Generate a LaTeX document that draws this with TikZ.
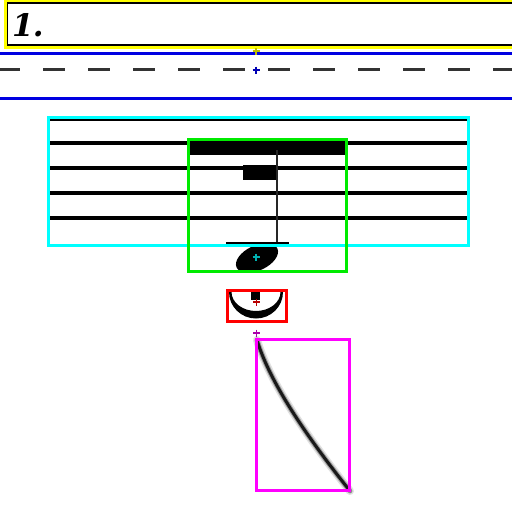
\documentclass[tikz,border=0pt]{standalone}
\usepackage{fontspec}
\newfontfamily\numfont{DejaVu Serif}
\usetikzlibrary{calc}
\definecolor{ybox}{RGB}{255,255,0}
\definecolor{ymark}{RGB}{190,190,0}
\definecolor{bline}{RGB}{0,0,225}
\definecolor{bmark}{RGB}{0,0,180}
\definecolor{cbox}{RGB}{0,255,255}
\definecolor{cmark}{RGB}{0,175,175}
\definecolor{gbox}{RGB}{0,235,0}
\definecolor{rbox}{RGB}{255,0,0}
\definecolor{rmark}{RGB}{185,0,0}
\definecolor{mbox}{RGB}{255,0,255}
\definecolor{mmark}{RGB}{170,0,170}
\tikzset{
  frame/.style={line width=3pt},
  staffline/.style={line width=3.2pt, black},
  pmark/.style={line width=1.8pt},
}
\newcommand{\plusmark}[2]{\draw[pmark,#1] ($(#2)+(-3.5,0)$) -- ($(#2)+(3.5,0)$) ($(#2)+(0,-3.5)$) -- ($(#2)+(0,3.5)$);}
\begin{document}
\begin{tikzpicture}[x=1pt,y=-1pt]
\useasboundingbox (0,0) rectangle (512,512);
\fill[white] (0,0) rectangle (512,512);
% header box
\draw[frame, ybox] (5,1) rectangle (530,47);
\draw[line width=1.4pt, black] (7.5,3) rectangle (530,44.8);
\node[anchor=base west, inner sep=0pt] (num) at (12,36) {\fontsize{31}{31}\selectfont\numfont\bfseries\itshape 1\kern-1pt.};
% blue lines and dashed line
\draw[line width=3pt, bline] (0,53) -- (512,53);
\draw[line width=3pt, bline] (0,98) -- (512,98);
\draw[line width=3pt, black!80, dash pattern=on 22pt off 23pt, dash phase=2pt] (0,69) -- (512,69);
% staff
\foreach \yy in {119,143,168,193,218} \draw[staffline] (50,\yy) -- (467,\yy);
% beam, rest, stem, ledger, head
\fill[black] (190,141) rectangle (345,155);
\fill[black] (243,165) rectangle (277,180);
\draw[line width=2.2pt, black!85] (277,150) -- (277,244);
\draw[line width=2.6pt, black] (226,243) -- (289,243);
\fill[black, rotate around={25:(257,258)}] (257,258) ellipse[x radius=22.5, y radius=12.5];
% crescent
\fill[black] (229,292) arc[start angle=180, end angle=0, x radius=27, y radius=26.5]
  -- (280.5,292) arc[start angle=0, end angle=180, x radius=24.5, y radius=19] -- cycle;
\fill[black] (251,291.5) rectangle (260,300);
% curve
\draw[line width=8pt, black!12, line cap=round] (257,340) .. controls (268,377) and (299,427) .. (350,491);
\draw[line width=5pt, black!40, line cap=round] (257,340) .. controls (268,377) and (299,427) .. (350,491);
\draw[line width=3pt, black!90, line cap=round] (257,340) .. controls (268,377) and (299,427) .. (350,491);
% boxes
\draw[frame, cbox] (48,117) rectangle (468,245);
\draw[frame, gbox] (188,139) rectangle (346,271);
\draw[frame, rbox] (227,290) rectangle (286,321);
\draw[frame, mbox] (256,339) rectangle (349,490);
% markers
\coordinate (my) at (256,51);
\coordinate (mb) at (256,70);
\coordinate (mc) at (256,257);
\coordinate (mr) at (256.5,302);
\coordinate (mm) at (256.5,333);
\plusmark{ymark}{my}
\plusmark{bmark}{mb}
\plusmark{cmark}{mc}
\plusmark{rmark}{mr}
\plusmark{mmark}{mm}
\end{tikzpicture}
\end{document}
